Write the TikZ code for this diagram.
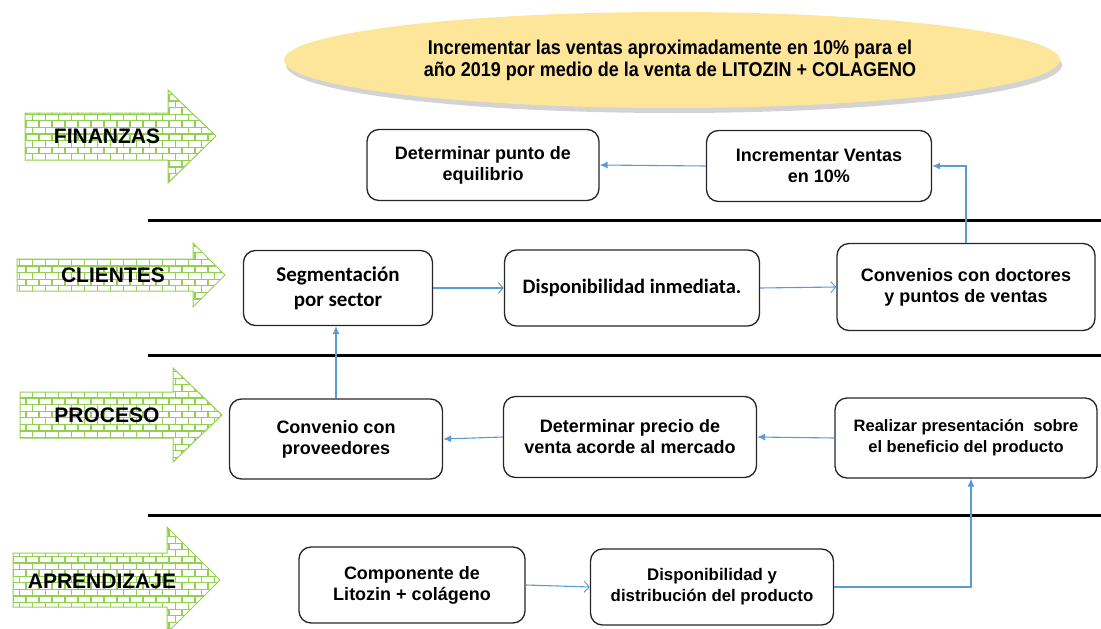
\documentclass[tikz,border=0pt]{standalone}
\usepackage{fontspec}
\setmainfont{Liberation Sans}
\newfontfamily\calibfont{Carlito}
\newfontfamily\narrowfont[FakeStretch=0.9]{Liberation Sans}
\usetikzlibrary{arrows.meta,shadows,patterns}
\definecolor{conncol}{RGB}{91,155,213}
\definecolor{brickgreen}{RGB}{146,208,80}
\definecolor{ellfill}{RGB}{253,229,153}
\pgfdeclarepatternformonly{greenbricks}{\pgfpoint{-1pt}{-1pt}}{\pgfpoint{14pt}{14pt}}{\pgfpoint{13pt}{13.2pt}}{%
  \pgfsetlinewidth{1.3pt}%
  \pgfpathmoveto{\pgfpoint{0pt}{0pt}}\pgfpathlineto{\pgfpoint{13pt}{0pt}}%
  \pgfpathmoveto{\pgfpoint{0pt}{6.6pt}}\pgfpathlineto{\pgfpoint{13pt}{6.6pt}}%
  \pgfpathmoveto{\pgfpoint{0pt}{0pt}}\pgfpathlineto{\pgfpoint{0pt}{6.6pt}}%
  \pgfpathmoveto{\pgfpoint{6.5pt}{6.6pt}}\pgfpathlineto{\pgfpoint{6.5pt}{13.2pt}}%
  \pgfusepath{stroke}}
\begin{document}
\begin{tikzpicture}[x=1pt,y=-1pt,
  box/.style={draw=black!85, line width=1.3pt, rounded corners=12pt, fill=white,
    align=center, inner sep=0pt, font=\bfseries\fontsize{18}{21}\selectfont},
  conn/.style={draw=conncol, line width=1.1pt},
  fulltip/.style={-{Latex[length=8pt,width=7pt]}},
  opentip/.style={-{Straight Barb[length=5pt,width=11pt,line width=0.9pt]}},
  band/.style={line width=3pt, black},
  greenarrow/.style={draw=brickgreen, line width=1pt, pattern=greenbricks, pattern color=brickgreen},
  lab/.style={font=\bfseries\fontsize{21}{24}\selectfont, inner sep=0pt}
]
\useasboundingbox (0,0) rectangle (1101,629);

% goal ellipse
\fill[ellfill, drop shadow={opacity=0.35, shadow xshift=2pt, shadow yshift=-5pt}]
  (672,60) ellipse [x radius=388, y radius=48];
\node[align=center, font=\narrowfont\bfseries\fontsize{20}{22}\selectfont] (goal) at (670,60)
  {Incrementar las ventas aproximadamente en 10\% para el\\a\~no 2019 por medio de la venta de LITOZIN + COLAGENO};

% separators
\draw[band] (148,220) -- (1101,220);
\draw[band] (148,355) -- (1101,355);
\draw[band] (148,515) -- (1101,515);

% perspective arrows
\draw[greenarrow] (25,113) -- (168,113) -- (168,90) -- (216,136) -- (168,183) -- (168,160) -- (25,160) -- cycle;
\draw[greenarrow] (17,259) -- (193,259) -- (193,243) -- (225,275) -- (193,307) -- (193,291) -- (17,291) -- cycle;
\draw[greenarrow] (20,392) -- (173,392) -- (173,368) -- (222,415) -- (173,462) -- (173,438) -- (20,438) -- cycle;
\draw[greenarrow] (13,553) -- (167,553) -- (167,527) -- (220,580) -- (167,633) -- (167,607) -- (13,607) -- cycle;
\node[lab] (lfin) at (107,136) {FINANZAS};
\node[lab] (lcli) at (113,275) {CLIENTES};
\node[lab] (lpro) at (107,415) {PROCESO};
\node[lab] (lapr) at (102,581) {APRENDIZAJE};

% boxes
\node[box, minimum width=232, minimum height=71] (det) at (483,165) {Determinar punto de\\equilibrio};
\node[box, minimum width=225, minimum height=71] (inc) at (819,166) {Incrementar Ventas\\en 10\%};
\node[box, minimum width=189, minimum height=75, font=\calibfont\bfseries\fontsize{21}{25}\selectfont] (seg) at (338,288) {Segmentaci\'on\\por sector};
\node[box, minimum width=255, minimum height=76, font=\calibfont\bfseries\fontsize{20.5}{24}\selectfont] (disp) at (632,288) {Disponibilidad inmediata.};
\node[box, minimum width=258, minimum height=87] (conv) at (966,287) {Convenios con doctores\\y puntos de ventas};
\node[box, minimum width=213, minimum height=80] (prov) at (336,439) {Convenio con\\proveedores};
\node[box, minimum width=253, minimum height=81] (prec) at (630,437) {Determinar precio de\\venta acorde al mercado};
\node[box, minimum width=262, minimum height=80, font=\bfseries\fontsize{16.5}{21}\selectfont] (real) at (966,438) {Realizar presentaci\'on\ \ sobre\\el beneficio del producto};
\node[box, minimum width=226, minimum height=76] (comp) at (412,585) {Componente de\\Litozin + col\'ageno};
\node[box, minimum width=243, minimum height=76, font=\bfseries\fontsize{16.8}{21}\selectfont] (dist) at (712,587) {Disponibilidad y\\distribuci\'on del producto};

% connectors
\draw[conn, fulltip] (inc.west) -- (det.east);
\draw[conn, fulltip] (conv.north) |- (inc.east);
\draw[conn, opentip] (seg.east) -- (disp.west);
\draw[conn, opentip] (disp.east) -- (conv.west);
\draw[conn, fulltip] (prov.north) -- (prov.north |- seg.south);
\draw[conn, fulltip] (real.west) -- (prec.east);
\draw[conn, fulltip] (prec.west) -- (prov.east);
\draw[conn, opentip] (comp.east) -- (dist.west);
\draw[conn, fulltip] (dist.east) -| ([xshift=5pt]real.south);
\end{tikzpicture}
\end{document}
